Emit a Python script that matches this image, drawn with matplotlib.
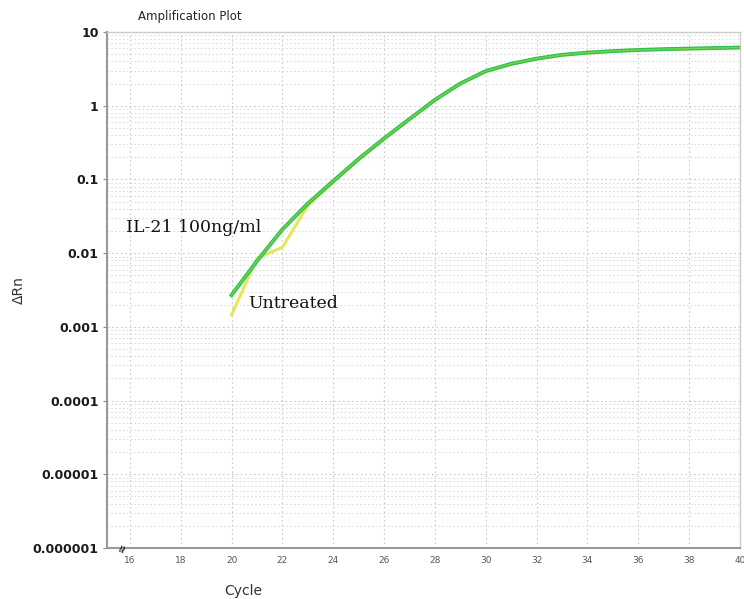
import matplotlib
matplotlib.use("Agg")
import matplotlib.pyplot as plt
from matplotlib.ticker import LogLocator, FixedLocator, NullFormatter
import numpy as np

# Amplification data (delta Rn per cycle)
cycles = [20, 21, 22, 23, 24, 25, 26, 27, 28, 29, 30,
          31, 32, 33, 34, 35, 36, 37, 38, 39, 40]
il21_rn = [0.0027, 0.0078, 0.021, 0.047, 0.095, 0.19, 0.36, 0.66, 1.2, 2.0, 2.95,
           3.7, 4.35, 4.9, 5.25, 5.5, 5.7, 5.85, 5.95, 6.05, 6.15]
untreated_rn = [0.00145, 0.0085, 0.012, 0.044, 0.092, 0.185, 0.35, 0.65, 1.2, 2.0, 2.9,
                3.65, 4.3, 4.85, 5.2, 5.5, 5.7, 5.85, 5.95, 6.05, 6.15]

x_ticks = [16, 18, 20, 22, 24, 26, 28, 30, 32, 34, 36, 38, 40]
y_ticks = [1e-6, 1e-5, 1e-4, 1e-3, 1e-2, 1e-1, 1, 10]
y_tick_labels = ["0.000001", "0.00001", "0.0001", "0.001", "0.01", "0.1", "1", "10"]

fig = plt.figure(figsize=(7.44, 5.99), dpi=100)
ax = fig.add_axes([0.1438, 0.0851, 0.8508, 0.8615])

ax.set_yscale("log")
ax.set_xlim(15.1, 40)
ax.set_ylim(1e-6, 10)

# Curves
ax.plot(cycles, untreated_rn, color="#e6e65a", lw=2.2, zorder=3)
ax.plot(cycles, il21_rn, color="#2fbf52", lw=2.8, zorder=4)
ax.plot(cycles, il21_rn, color="#8fe040", lw=1.0, alpha=0.7, zorder=5)

# Axes styling
ax.set_xticks(x_ticks)
ax.set_xticklabels([str(t) for t in x_ticks], fontsize=6.5, color="#555555")
ax.set_yticks(y_ticks)
ax.set_yticklabels(y_tick_labels, fontsize=9, color="#1a1a1a", fontweight="semibold")
ax.yaxis.set_minor_locator(LogLocator(base=10, subs=np.arange(2, 10)))
ax.yaxis.set_minor_formatter(NullFormatter())
ax.xaxis.set_minor_locator(FixedLocator([]))
ax.tick_params(axis="x", length=0, pad=6)
ax.tick_params(axis="y", which="major", length=3, color="#888888", pad=3)
ax.tick_params(axis="y", which="minor", length=0)

ax.grid(True, which="major", axis="both", color="#c8c8c8", lw=0.8, linestyle=(0, (1.5, 2.5)))
ax.grid(True, which="minor", axis="y", color="#d6d6d6", lw=0.7, linestyle=(0, (1.5, 2.5)))

for side in ["left", "bottom"]:
    ax.spines[side].set_color("#999999")
    ax.spines[side].set_linewidth(1.5)
for side in ["top", "right"]:
    ax.spines[side].set_color("#cccccc")
    ax.spines[side].set_linewidth(1.0)

# Axis break mark
ax.text(15.7, 1e-6, "≈", rotation=70, fontsize=8, fontweight="bold",
        ha="center", va="center", color="#222222")

ax.set_xlabel("Cycle", fontsize=10, color="#333333", labelpad=8)
ax.xaxis.set_label_coords(0.216, -0.07)
ax.set_ylabel("ΔRn", fontsize=10, color="#333333")
ax.yaxis.set_label_coords(-0.128, 0.5)

fig.text(0.255, 0.972, "Amplification Plot", fontsize=8.5, color="#222222",
         ha="center", va="center")

# Series labels
ax.text(15.85, 0.0226, "IL-21 100ng/ml", family="DejaVu Serif", fontsize=12.5,
        color="#111111", ha="left", va="center")
ax.text(20.65, 0.0021, "Untreated", family="DejaVu Serif", fontsize=12.5,
        color="#111111", ha="left", va="center")

fig.savefig("out.png", dpi=100)
